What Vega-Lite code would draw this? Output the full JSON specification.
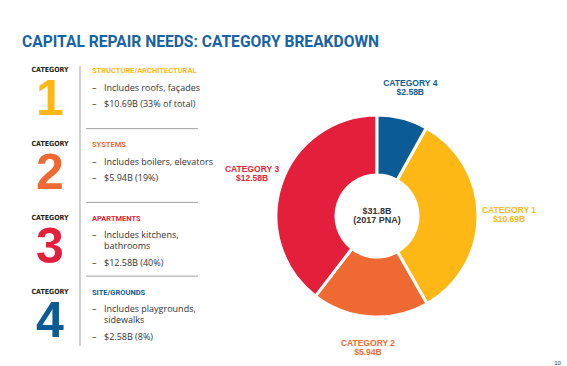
{
  "$schema": "https://vega.github.io/schema/vega-lite/v6.json",
  "background": "white",
  "padding": {"left": 22, "top": 34, "right": 0, "bottom": 0},
  "title": {
    "text": "CAPITAL REPAIR NEEDS: CATEGORY BREAKDOWN",
    "anchor": "start",
    "font": "Roboto",
    "fontSize": 15.6,
    "fontWeight": "bold",
    "color": "#1763A5",
    "offset": 15.4
  },
  "datasets": {
    "cats": [
      {"cat": "1", "name": "CATEGORY 1", "group": "STRUCTURE/ARCHITECTURAL", "value": 10.69, "amount": "$10.69B"},
      {"cat": "2", "name": "CATEGORY 2", "group": "SYSTEMS", "value": 5.94, "amount": "$5.94B"},
      {"cat": "3", "name": "CATEGORY 3", "group": "APARTMENTS", "value": 12.58, "amount": "$12.58B"},
      {"cat": "4", "name": "CATEGORY 4", "group": "SITE/GROUNDS", "value": 2.58, "amount": "$2.58B"}
    ],
    "notes": [
      {"cat": "1", "line": 1.5, "kind": "bullet", "text": "Includes roofs, façades"},
      {"cat": "1", "line": 3, "kind": "bullet", "text": "$10.69B (33% of total)"},
      {"cat": "2", "line": 1.5, "kind": "bullet", "text": "Includes boilers, elevators"},
      {"cat": "2", "line": 3, "kind": "bullet", "text": "$5.94B (19%)"},
      {"cat": "3", "line": 1.5, "kind": "bullet", "text": "Includes kitchens,"},
      {"cat": "3", "line": 2.5, "kind": "wrap", "text": "bathrooms"},
      {"cat": "3", "line": 4, "kind": "bullet", "text": "$12.58B (40%)"},
      {"cat": "4", "line": 1.5, "kind": "bullet", "text": "Includes playgrounds,"},
      {"cat": "4", "line": 2.5, "kind": "wrap", "text": "sidewalks"},
      {"cat": "4", "line": 4, "kind": "bullet", "text": "$2.58B (8%)"}
    ],
    "total": [{"total": "$31.8B", "note": "(2017 PNA)"}]
  },
  "bounds": "flush",
  "spacing": 2,
  "hconcat": [
    {
      "width": 56,
      "height": 280,
      "data": {"name": "cats"},
      "layer": [
        {
          "mark": {"type": "text", "font": "'DejaVu Sans Condensed', sans-serif", "fontWeight": "bold", "fontSize": 7, "baseline": "middle", "color": "#231f20"},
          "encoding": {
            "text": {"value": "CATEGORY"},
            "y": {"field": "cat", "type": "ordinal", "scale": {"domain": ["1", "2", "3", "4"], "range": [0, 295], "paddingInner": 0, "paddingOuter": 0}, "axis": null},
            "yOffset": {"datum": -0.1, "type": "quantitative", "scale": {"domain": [-0.49, 6.21]}}
          }
        },
        {
          "mark": {"type": "text", "font": "Liberation Sans", "fontWeight": "bold", "fontSize": 50, "baseline": "alphabetic"},
          "encoding": {
            "text": {"field": "cat"},
            "y": {"field": "cat", "type": "ordinal", "scale": {"domain": ["1", "2", "3", "4"], "range": [0, 295], "paddingInner": 0, "paddingOuter": 0}, "axis": null},
            "yOffset": {"datum": 4, "type": "quantitative", "scale": {"domain": [-0.49, 6.21]}},
            "color": {"field": "cat", "type": "nominal", "scale": {"domain": ["1", "2", "3", "4"], "range": ["#FDB815", "#EF6A33", "#E31F3B", "#0B5B95"]}, "legend": null}
          }
        }
      ]
    },
    {
      "width": 148,
      "height": 280,
      "layer": [
        {
          "data": {"values": [{"divider": "left"}]},
          "mark": {"type": "rule", "color": "#a0a0a0", "strokeWidth": 1},
          "encoding": {
            "x": {"datum": 0, "type": "quantitative", "scale": {"domain": [0, 12.333]}, "axis": null}
          }
        },
        {
          "data": {"name": "cats"},
          "transform": [{"filter": "datum.cat != '4'"}],
          "mark": {"type": "rule", "color": "#a0a0a0", "strokeWidth": 1},
          "encoding": {
            "x": {"datum": 0.5, "type": "quantitative", "scale": {"domain": [0, 12.333]}, "axis": null},
            "x2": {"datum": 9.83},
            "y": {"field": "cat", "type": "ordinal", "scale": {"domain": ["1", "2", "3", "4"], "range": [0, 295], "paddingInner": 0, "paddingOuter": 0}, "axis": null},
            "yOffset": {"datum": 5.2, "type": "quantitative", "scale": {"domain": [-0.49, 6.21]}}
          }
        },
        {
          "data": {"name": "cats"},
          "mark": {"type": "text", "font": "Roboto", "fontWeight": "bold", "fontSize": 7.5, "baseline": "middle", "align": "left"},
          "encoding": {
            "text": {"field": "group"},
            "x": {"datum": 1, "type": "quantitative", "scale": {"domain": [0, 12.333]}, "axis": null},
            "y": {"field": "cat", "type": "ordinal", "scale": {"domain": ["1", "2", "3", "4"], "range": [0, 295], "paddingInner": 0, "paddingOuter": 0}, "axis": null},
            "yOffset": {"datum": 0, "type": "quantitative", "scale": {"domain": [-0.49, 6.21]}},
            "color": {"field": "cat", "type": "nominal", "scale": {"domain": ["1", "2", "3", "4"], "range": ["#FDB815", "#EF6A33", "#E31F3B", "#0B5B95"]}, "legend": null}
          }
        },
        {
          "data": {"name": "notes"},
          "transform": [{"filter": "datum.kind == 'bullet'"}],
          "mark": {"type": "text", "font": "Open Sans", "fontSize": 9, "baseline": "middle", "align": "left", "color": "#333333"},
          "encoding": {
            "text": {"value": "–"},
            "x": {"datum": 1, "type": "quantitative", "scale": {"domain": [0, 12.333]}, "axis": null},
            "y": {"field": "cat", "type": "ordinal", "scale": {"domain": ["1", "2", "3", "4"], "range": [0, 295], "paddingInner": 0, "paddingOuter": 0}, "axis": null},
            "yOffset": {"field": "line", "type": "quantitative", "scale": {"domain": [-0.49, 6.21]}}
          }
        },
        {
          "data": {"name": "notes"},
          "mark": {"type": "text", "font": "Open Sans", "fontSize": 9, "baseline": "middle", "align": "left", "color": "#333333"},
          "encoding": {
            "text": {"field": "text"},
            "x": {"datum": 2, "type": "quantitative", "scale": {"domain": [0, 12.333]}, "axis": null},
            "y": {"field": "cat", "type": "ordinal", "scale": {"domain": ["1", "2", "3", "4"], "range": [0, 295], "paddingInner": 0, "paddingOuter": 0}, "axis": null},
            "yOffset": {"field": "line", "type": "quantitative", "scale": {"domain": [-0.49, 6.21]}}
          }
        }
      ]
    },
    {
      "width": 294,
      "height": 300,
      "title": {"text": "10", "orient": "right", "anchor": "end", "angle": 0, "baseline": "bottom", "fontSize": 6, "font": "Liberation Sans", "fontWeight": "normal", "color": "#333333", "offset": 18},
      "data": {"name": "cats"},
      "layer": [
        {
          "mark": {"type": "arc", "innerRadius": 41, "outerRadius": 101, "stroke": "white", "strokeWidth": 3},
          "encoding": {
            "theta": {"field": "value", "type": "quantitative", "stack": true, "scale": {"range": [0.51, 6.7932]}},
            "color": {"field": "cat", "type": "nominal", "scale": {"domain": ["1", "2", "3", "4"], "range": ["#FDB815", "#EF6A33", "#E31F3B", "#0B5B95"]}, "legend": null}
          }
        },
        {
          "mark": {"type": "text", "radius": 132, "baseline": "bottom", "font": "Liberation Sans", "fontWeight": "bold", "fontSize": 8.5},
          "encoding": {
            "theta": {"field": "value", "type": "quantitative", "stack": true},
            "text": {"field": "name"},
            "color": {"field": "cat", "type": "nominal", "legend": null}
          }
        },
        {
          "mark": {"type": "text", "radius": 132, "baseline": "top", "font": "Liberation Sans", "fontWeight": "bold", "fontSize": 8.5},
          "encoding": {
            "theta": {"field": "value", "type": "quantitative", "stack": true},
            "text": {"field": "amount"},
            "color": {"field": "cat", "type": "nominal", "legend": null}
          }
        },
        {
          "data": {"name": "total"},
          "mark": {"type": "text", "baseline": "bottom", "font": "Liberation Sans", "fontWeight": "bold", "fontSize": 9, "color": "#333333"},
          "encoding": {"text": {"field": "total"}}
        },
        {
          "data": {"name": "total"},
          "mark": {"type": "text", "baseline": "top", "font": "Liberation Sans", "fontWeight": "bold", "fontSize": 9, "color": "#333333"},
          "encoding": {"text": {"field": "note"}}
        }
      ]
    }
  ],
  "config": {"view": {"stroke": null}}
}
